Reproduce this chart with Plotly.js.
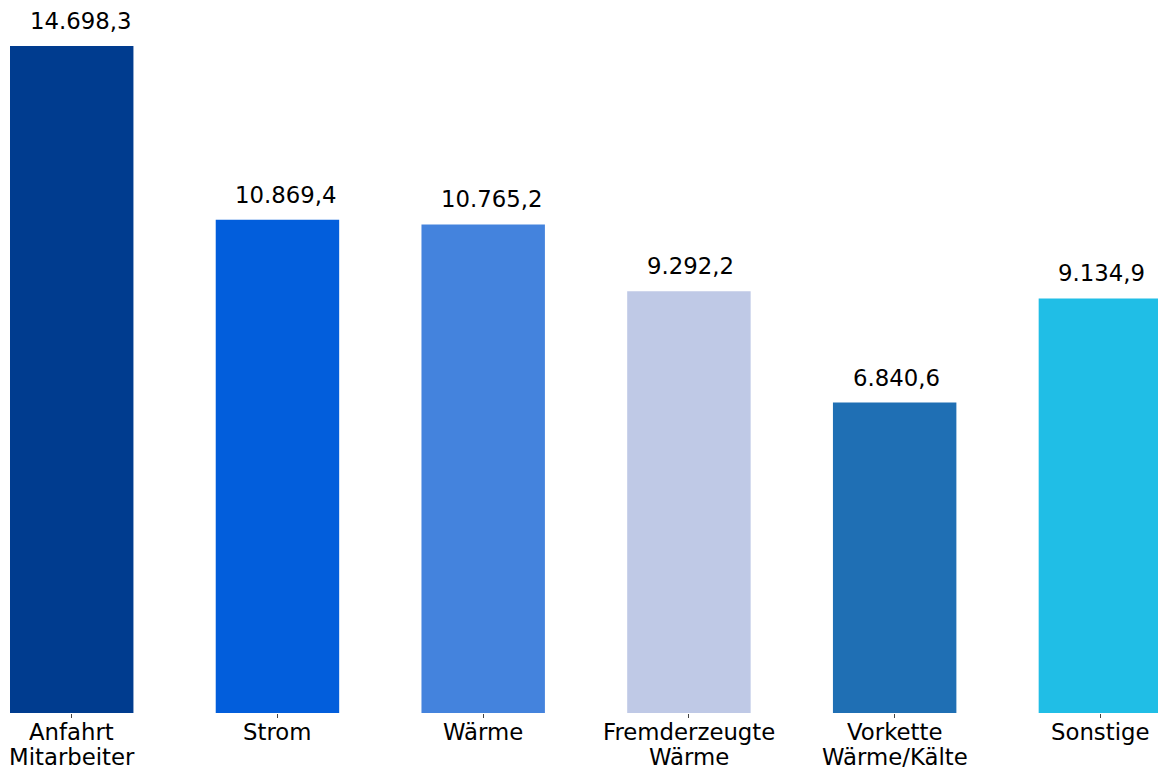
<!DOCTYPE html>
<html>
<head>
<meta charset="utf-8">
<script src="https://cdn.plot.ly/plotly-3.0.1.min.js"></script>
<style>html,body{margin:0;padding:0;background:#fff;}#chart{width:1158px;height:769px;}</style>
</head>
<body>
<div id="chart"></div>
<script>
const categories = ["Anfahrt Mitarbeiter", "Strom", "Wärme", "Fremderzeugte Wärme", "Vorkette Wärme/Kälte", "Sonstige"];
const labelLines = [["Anfahrt", "Mitarbeiter"], ["Strom"], ["Wärme"], ["Fremderzeugte", "Wärme"], ["Vorkette", "Wärme/Kälte"], ["Sonstige"]];
const values = [14698.3, 10869.4, 10765.2, 9292.2, 6840.6, 9134.9];
const colors = ["#003C8F", "#025EDC", "#4483DD", "#BFC9E6", "#1F6FB4", "#20BEE6"];

function fmtDE(v) {
  const parts = v.toFixed(1).split(".");
  const intPart = parts[0].replace(/\B(?=(\d{3})+(?!\d))/g, ".");
  return intPart + "," + parts[1];
}

const xs = categories.map((c, i) => i);
const trace = {
  type: "bar",
  x: xs,
  y: values,
  width: 0.6,
  marker: {color: colors, line: {width: 0}},
  hoverinfo: "none"
};

const txtFont = {family: "DejaVu Sans", size: 22.8, color: "#000"};
const annotations = values.map((v, i) => ({
  x: i, y: v, xref: "x", yref: "y",
  text: fmtDE(v), showarrow: false,
  xanchor: "left", yanchor: "bottom",
  xshift: -44, yshift: 10,
  font: txtFont
}));
labelLines.forEach((lines, i) => {
  lines.forEach((ln, j) => {
    annotations.push({
      x: i, y: 0, xref: "x", yref: "y",
      text: ln, showarrow: false,
      xanchor: "center", yanchor: "bottom",
      yshift: -34 - 25 * j,
      font: txtFont
    });
  });
});

const layout = {
  width: 1158, height: 769,
  margin: {l: 10, r: 0, t: 0, b: 56},
  paper_bgcolor: "#fff", plot_bgcolor: "#fff",
  showlegend: false,
  font: txtFont,
  xaxis: {
    range: [-0.3, 5.28], tickmode: "array", tickvals: xs, ticktext: xs.map(() => ""),
    ticks: "outside", ticklen: 4, tickwidth: 1, tickcolor: "#444",
    showgrid: false, zeroline: false, showline: false
  },
  yaxis: {range: [0, 15710], visible: false, showgrid: false, zeroline: false},
  annotations: annotations
};

Plotly.newPlot("chart", [trace], layout, {displayModeBar: false, staticPlot: true});
</script>
</body>
</html>
